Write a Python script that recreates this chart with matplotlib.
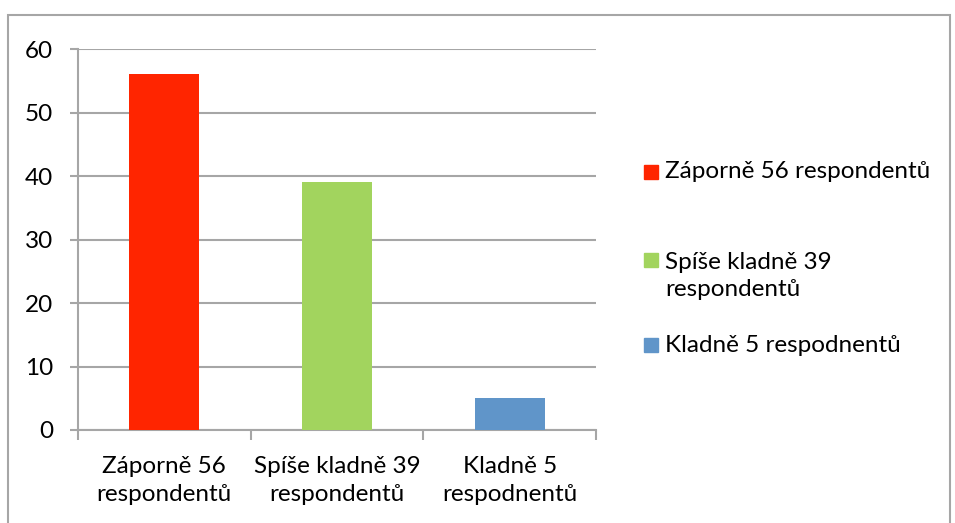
import matplotlib.pyplot as plt
from matplotlib.patches import Rectangle

categories = ['Záporně 56\nrespondentů', 'Spíše kladně 39\nrespondentů', 'Kladně 5\nrespodnentů']
legend_labels = ['Záporně 56 respondentů', 'Spíše kladně 39\nrespondentů', 'Kladně 5 respodnentů']
values = [56, 39, 5]
colors = ['#ff2500', '#a2d45e', '#6095c9']
yticks = [0, 10, 20, 30, 40, 50, 60]

plt.rcParams['font.family'] = ['Lato', 'DejaVu Sans']
grey = '#a6a6a6'

W, H = 955, 523
fig = plt.figure(figsize=(W / 100, H / 100), dpi=100)

# outer chart frame
fig.patches.append(Rectangle((8 / W, -0.01), 942 / W, 1 - 15 / H + 0.01,
                             transform=fig.transFigure, fill=False,
                             edgecolor=grey, linewidth=1.5))

ax = fig.add_axes([78 / W, 1 - 430 / H, (596 - 78) / W, (430 - 49) / H])
x = range(len(values))
ax.bar(x, values, width=0.405, color=colors, zorder=3)

ax.set_xlim(-0.5, 2.5)
ax.set_ylim(0, 60)
ax.set_yticks(yticks)
ax.set_yticklabels([str(t) for t in yticks], fontsize=17.5)
ax.set_xticks([-0.5, 0.5, 1.5, 2.5], minor=False)
ax.set_xticklabels([])
ax.set_xticks(list(x), minor=True)
ax.set_xticklabels(categories, minor=True, fontsize=17.5, linespacing=1.38)
ax.tick_params(axis='x', which='minor', length=0, pad=19)
ax.tick_params(axis='x', which='major', length=7, width=1.5, color=grey)
ax.tick_params(axis='y', length=6, width=1.5, color=grey, pad=12)

ax.grid(axis='y', color=grey, linewidth=1.5, zorder=0)
for s in ['top', 'right']:
    ax.spines[s].set_visible(False)
for s in ['left', 'bottom']:
    ax.spines[s].set_color(grey)
    ax.spines[s].set_linewidth(1.5)

# legend
legend_y = [172, 276, 345]
for lab, col, yc in zip(legend_labels, colors, legend_y):
    first_line_y = yc - (16 if '\n' in lab else 0)
    fig.patches.append(Rectangle((644 / W, 1 - (first_line_y + 7) / H), 14 / W, 14 / H,
                                 transform=fig.transFigure, color=col))
    fig.text(665 / W, 1 - yc / H, lab, fontsize=17.5, va='center', ha='left',
             linespacing=1.38)

fig.savefig('out.png', dpi=100)
